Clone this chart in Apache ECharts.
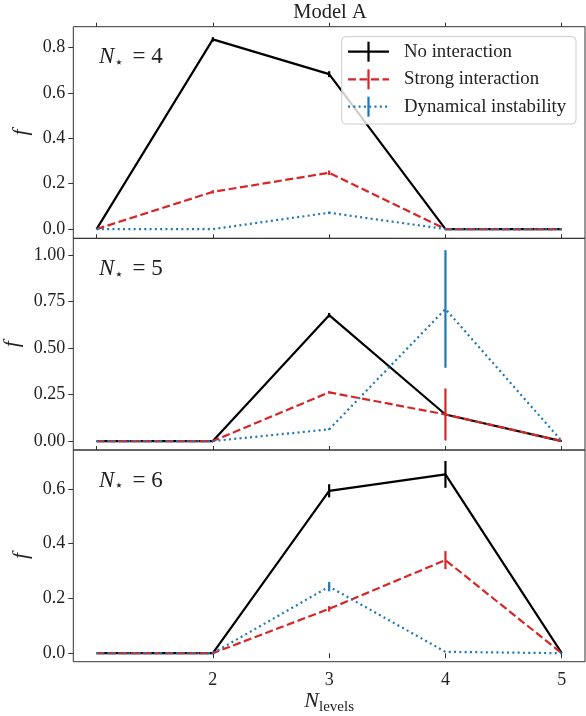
<!DOCTYPE html>
<html><head><meta charset="utf-8">
<script src="https://cdn.jsdelivr.net/npm/echarts@6/dist/echarts.min.js"></script>
<style>html,body{margin:0;padding:0;background:#fff}#c{width:586px;height:716px}</style>
</head><body><div id="c"></div>
<script>
// ---- data ----
const levels = [1, 2, 3, 4, 5];
const seriesNames = ['No interaction', 'Strong interaction', 'Dynamical instability'];
const panelNstar = ['4', '5', '6'];
const titleText = 'Model A';

// N* = 4
const n4NoInt = [0, 0.835, 0.682, 0, 0];
const n4NoIntErr = [0, 0.01, 0.013, 0, 0];
const n4Strong = [0, 0.164, 0.248, 0, 0];
const n4StrongErr = [0, 0.007, 0.01, 0, 0];
const n4Dyn = [0, 0, 0.072, 0, 0];
const n4DynErr = [0, 0, 0.005, 0, 0];
// N* = 5
const n5NoInt = [0, 0, 0.677, 0.143, 0];
const n5NoIntErr = [0, 0, 0.012, 0, 0];
const n5Strong = [0, 0, 0.262, 0.143, 0];
const n5StrongErr = [0, 0, 0.006, 0.14, 0];
const n5Dyn = [0, 0, 0.063, 0.71, 0];
const n5DynErr = [0, 0, 0.004, 0.316, 0];
// N* = 6
const n6NoInt = [0, 0, 0.593, 0.653, 0];
const n6NoIntErr = [0, 0, 0.024, 0.049, 0];
const n6Strong = [0, 0, 0.162, 0.34, 0];
const n6StrongErr = [0, 0, 0.01, 0.033, 0];
const n6Dyn = [0, 0, 0.243, 0.005, 0];
const n6DynErr = [0, 0, 0.017, 0, 0];

const yTicks = [[0, 0.2, 0.4, 0.6, 0.8], [0, 0.25, 0.5, 0.75, 1.0], [0, 0.2, 0.4, 0.6]];
const yDecimals = [1, 2, 1];
const yRanges = [[-0.041, 0.891], [-0.048, 1.09], [-0.031, 0.742]];
const xTopTicks = [1, 2, 3, 4, 5];
const xBottomTicks = [2, 3, 4, 5];

// ---- styling ----
const FONT = 'Liberation Serif';
const TXT = '#222';
const FRAME = '#333';
const colors = ['#000000', '#d62728', '#1f77b4'];
const dashes = ['solid', [8, 3.5], [2, 3.3]];
const panels = [
  [[n4NoInt, n4NoIntErr], [n4Strong, n4StrongErr], [n4Dyn, n4DynErr]],
  [[n5NoInt, n5NoIntErr], [n5Strong, n5StrongErr], [n5Dyn, n5DynErr]],
  [[n6NoInt, n6NoIntErr], [n6Strong, n6StrongErr], [n6Dyn, n6DynErr]]
];
const gridTops = [26.7, 238.3, 450];
const gridH = 211.7;
const nameGaps = [37, 49, 38];

const grid = [], xAxis = [], yAxis = [], series = [], graphic = [];
for (let p = 0; p < 3; p++) {
  grid.push({left: 73.3, right: 1, top: gridTops[p], height: gridH, show: true,
    containLabel: false, outerBoundsMode: 'none',
    borderColor: FRAME, borderWidth: 1, backgroundColor: 'transparent'});
  const isBottom = p === 2;
  xAxis.push({type: 'value', gridIndex: p, position: 'bottom', min: 0.8, max: 5.2,
    splitLine: {show: false}, axisLine: {show: false},
    axisTick: {show: isBottom, inside: false, length: 5, customValues: xBottomTicks, lineStyle: {color: FRAME}},
    axisLabel: {show: isBottom, customValues: xBottomTicks, margin: 10, fontFamily: FONT, fontSize: 18, color: TXT},
    name: isBottom ? '{n|N}{s|levels}' : '', nameLocation: 'middle', nameGap: 26,
    nameTextStyle: {rich: {
      n: {fontFamily: FONT, fontStyle: 'italic', fontSize: 22, color: TXT},
      s: {fontFamily: FONT, fontSize: 15, color: TXT, padding: [10, 0, 0, 0]}
    }}
  });
  xAxis.push({type: 'value', gridIndex: p, position: 'top', min: 0.8, max: 5.2,
    splitLine: {show: false}, axisLine: {show: false},
    axisTick: {show: true, inside: false, length: 4, customValues: xTopTicks, lineStyle: {color: FRAME}},
    axisLabel: {show: false}
  });
  const dec = yDecimals[p];
  yAxis.push({type: 'value', gridIndex: p, min: yRanges[p][0], max: yRanges[p][1],
    splitLine: {show: false}, axisLine: {show: false},
    axisTick: {show: true, inside: false, length: 5, customValues: yTicks[p], lineStyle: {color: FRAME}},
    axisLabel: {customValues: yTicks[p], margin: 8, fontFamily: FONT, fontSize: 18, color: TXT,
      formatter: v => Number(v).toFixed(dec)},
    name: 'f', nameLocation: 'middle', nameGap: nameGaps[p],
    nameTextStyle: {fontFamily: FONT, fontStyle: 'italic', fontSize: 22, color: TXT}
  });
  for (let s = 0; s < 3; s++) {
    const vals = panels[p][s][0], errs = panels[p][s][1];
    series.push({type: 'line', name: seriesNames[s], xAxisIndex: 2 * p, yAxisIndex: p,
      data: levels.map((x, i) => [x, vals[i]]), symbol: 'none', showSymbol: false,
      lineStyle: {color: colors[s], width: 2.2, type: dashes[s], cap: 'butt'},
      z: 2 + s, silent: true, animation: false});
    const ed = levels.map((x, i) => [x, vals[i] - errs[i], vals[i] + errs[i]]).filter(d => d[2] > d[1]);
    const col = colors[s];
    series.push({type: 'custom', xAxisIndex: 2 * p, yAxisIndex: p, data: ed,
      encode: {x: 0, y: [1, 2]}, silent: true, animation: false, z: 2 + s,
      renderItem: (params, api) => {
        const a = api.coord([api.value(0), api.value(1)]);
        const b = api.coord([api.value(0), api.value(2)]);
        return {type: 'line', shape: {x1: a[0], y1: a[1], x2: b[0], y2: b[1]},
          style: {stroke: col, lineWidth: 2.2}};
      }});
  }
  graphic.push({type: 'text', left: 99, top: gridTops[p] + 19, z: 50,
    style: {text: '{n|N}{s|⋆}{t| = ' + panelNstar[p] + '}',
      rich: {
        n: {fontFamily: FONT, fontStyle: 'italic', fontSize: 23, fill: TXT},
        s: {fontFamily: 'DejaVu Sans', fontSize: 15, fill: TXT, padding: [12, 3, 0, 0]},
        t: {fontFamily: FONT, fontSize: 23, fill: TXT}
      }}});
}

// title
graphic.push({type: 'text', x: 330, y: 13, z: 50,
  style: {text: titleText, fontFamily: FONT, fontSize: 20.5, fill: TXT, align: 'center', verticalAlign: 'middle'}});

// legend
const lg = {x: 341.7, y: 36.7, w: 234.3, h: 87.3};
graphic.push({type: 'rect', z: 60, shape: {x: lg.x, y: lg.y, width: lg.w, height: lg.h, r: 4},
  style: {fill: 'rgba(255,255,255,0.8)', stroke: '#cccccc', lineWidth: 1}});
const rowY = [51.7, 79.3, 106.7];
for (let s = 0; s < 3; s++) {
  const y = rowY[s];
  graphic.push({type: 'line', z: 61, shape: {x1: 348, y1: y, x2: 389, y2: y},
    style: {stroke: colors[s], lineWidth: 2.2, lineDash: s === 0 ? null : dashes[s]}});
  graphic.push({type: 'line', z: 61, shape: {x1: 368.5, y1: y - 10, x2: 368.5, y2: y + 10},
    style: {stroke: colors[s], lineWidth: 2.2}});
  graphic.push({type: 'text', z: 61, x: 404, y: y,
    style: {text: seriesNames[s], fontFamily: FONT, fontSize: 18.8, fill: TXT, verticalAlign: 'middle'}});
}

const chart = echarts.init(document.getElementById('c'), null, {renderer: 'canvas'});
chart.setOption({animation: false, grid, xAxis, yAxis, series, graphic});
</script></body></html>
